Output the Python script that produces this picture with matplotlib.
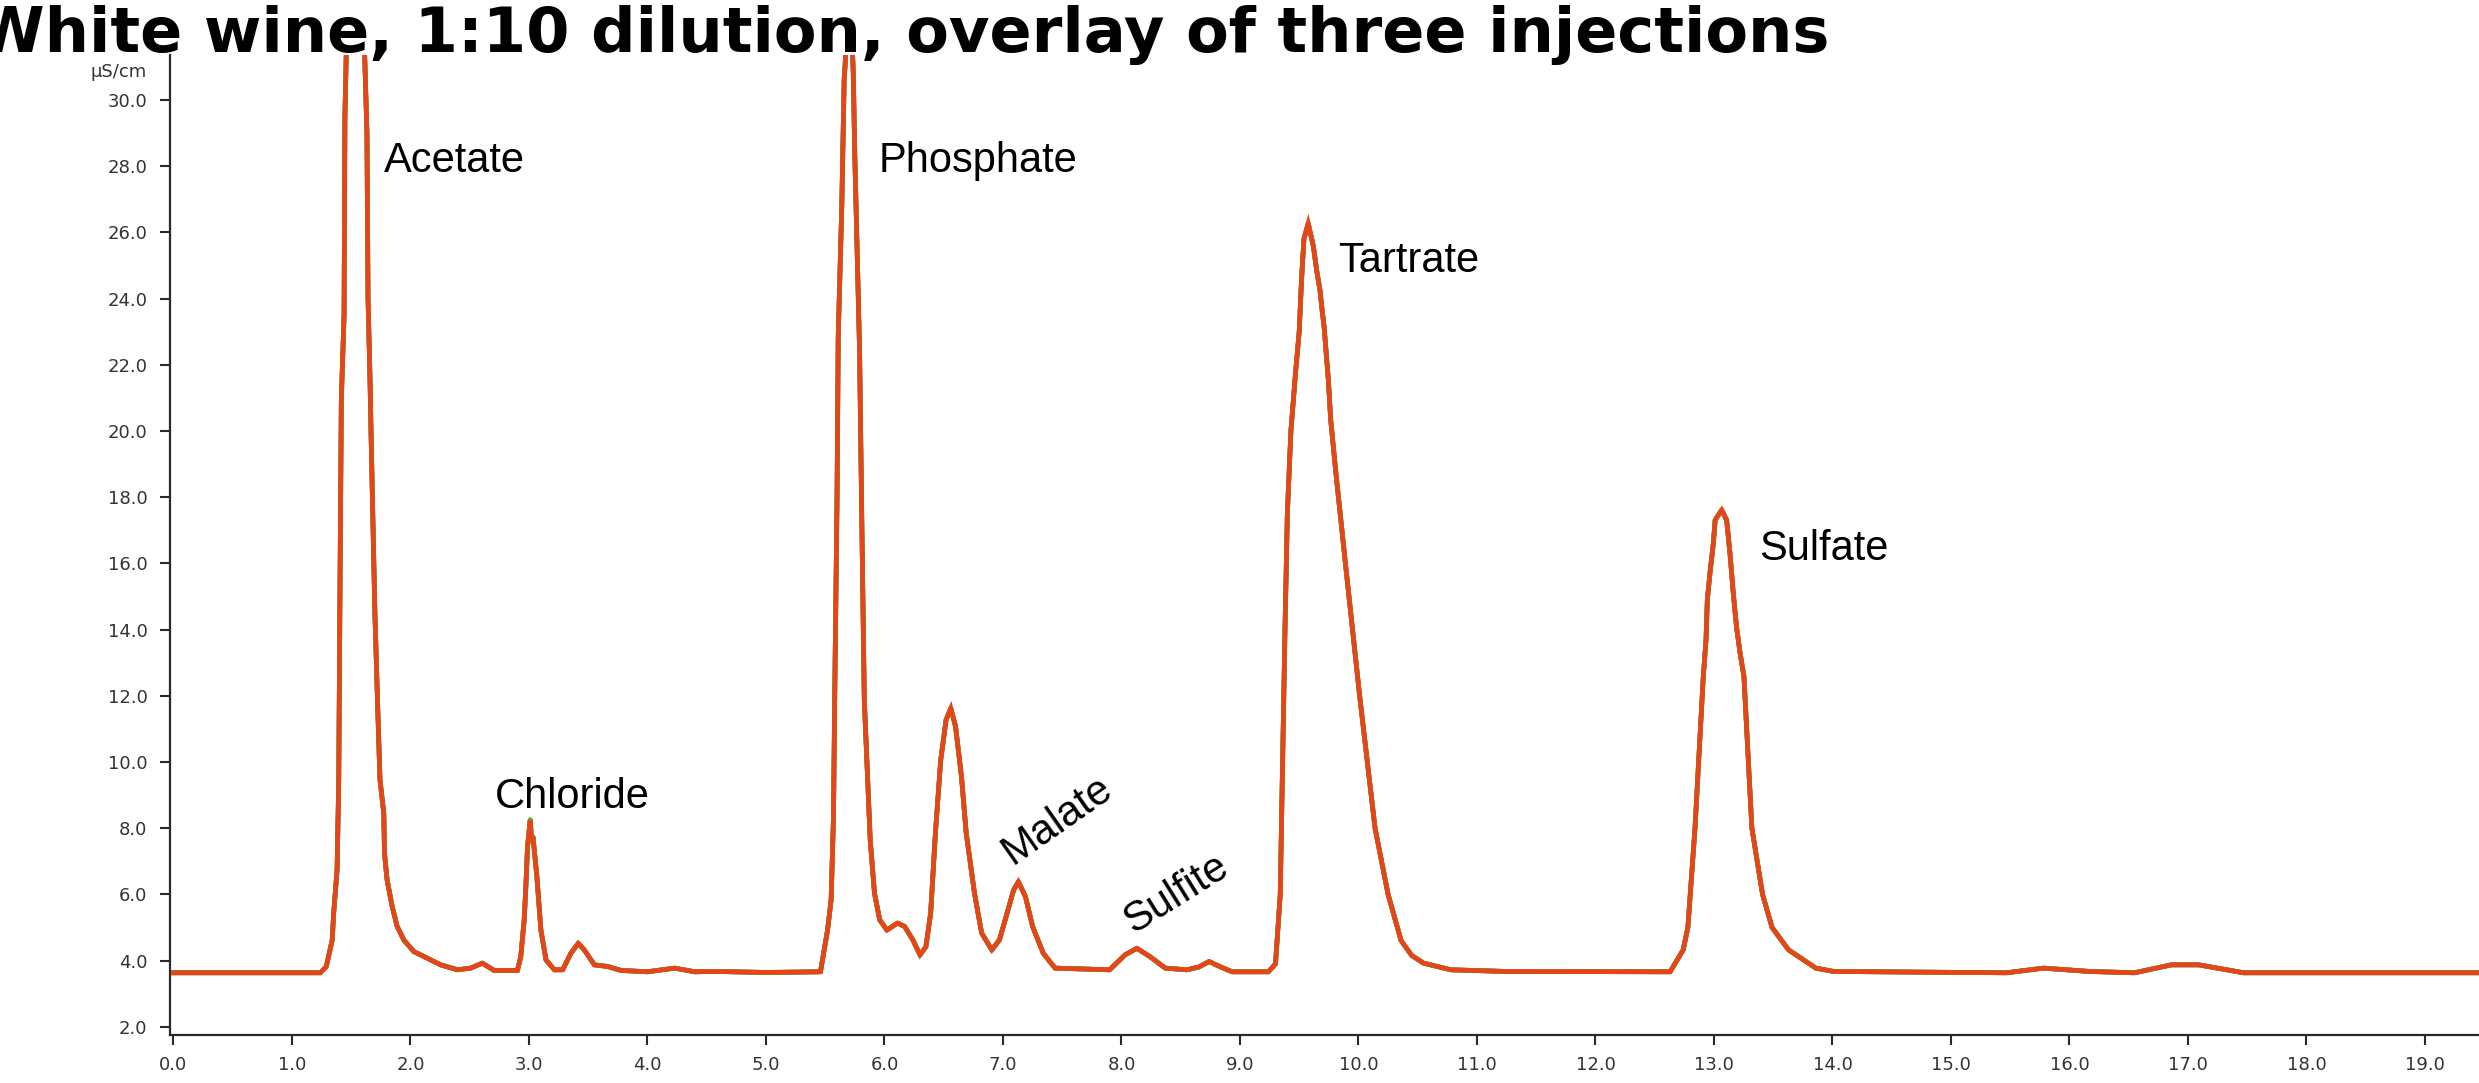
import matplotlib
matplotlib.use("Agg")
import matplotlib.pyplot as plt
from matplotlib.ticker import FormatStrFormatter

# ---- data (time in min, conductivity in µS/cm) ----
time_min = [
    0.00, 1.24, 1.29, 1.34, 1.352, 1.381, 1.395, 1.405, 1.417, 1.44, 1.447, 1.456,
    1.54, 1.61, 1.633, 1.642, 1.658, 1.67, 1.70, 1.725, 1.743, 1.775, 1.781, 1.803,
    1.846, 1.888, 1.944, 2.029, 2.142, 2.255, 2.396, 2.508, 2.607, 2.706, 2.903,
    2.931, 2.960, 2.974, 2.988, 3.011, 3.022, 3.034, 3.067, 3.101, 3.144, 3.214,
    3.285, 3.354, 3.416, 3.467, 3.552, 3.665, 3.777, 4.00, 4.229, 4.40, 4.567, 5.00,
    5.46, 5.52, 5.55, 5.57, 5.58, 5.60, 5.61, 5.64, 5.66, 5.71, 5.737, 5.75, 5.77,
    5.79, 5.81, 5.83, 5.85, 5.865, 5.88, 5.916, 5.96, 6.02, 6.11, 6.17, 6.24, 6.30,
    6.35, 6.39, 6.43, 6.475, 6.52, 6.56, 6.60, 6.65, 6.69, 6.76, 6.82, 6.906, 6.97,
    7.035, 7.09, 7.13, 7.19, 7.25, 7.34, 7.44, 7.90, 8.03, 8.13, 8.24, 8.37, 8.55,
    8.65, 8.74, 8.84, 8.935, 9.24, 9.30, 9.34, 9.36, 9.38, 9.40, 9.43, 9.47, 9.50,
    9.52, 9.54, 9.576, 9.62, 9.647, 9.675, 9.69, 9.71, 9.726, 9.746, 9.766, 9.788,
    9.81, 9.89, 10.01, 10.14, 10.25, 10.36, 10.45, 10.55, 10.78, 11.24, 12.63, 12.74,
    12.78, 12.84, 12.91, 12.933, 12.944, 12.966, 12.995, 13.01, 13.065, 13.107,
    13.135, 13.163, 13.19, 13.22, 13.253, 13.32, 13.41, 13.49, 13.63, 13.86, 14.01,
    15.47, 15.78, 16.17, 16.55, 16.86, 17.09, 17.47, 19.46,
]
conductivity = [
    3.63, 3.63, 3.82, 4.62, 5.43, 6.74, 9.46, 15.0, 21.0, 23.5, 29.5, 31.0,
    45.0, 31.8, 29.0, 24.0, 21.7, 19.5, 14.5, 11.5, 9.46, 8.45, 7.24, 6.44,
    5.63, 5.03, 4.62, 4.27, 4.07, 3.87, 3.72, 3.77, 3.92, 3.70, 3.70,
    4.12, 5.23, 6.23, 7.44, 8.25, 7.60, 7.74, 6.53, 4.92, 4.02, 3.72,
    3.72, 4.22, 4.52, 4.32, 3.87, 3.82, 3.70, 3.66, 3.77, 3.66, 3.67, 3.64,
    3.66, 4.92, 5.83, 8.35, 11.87, 18.0, 22.85, 26.8, 30.6, 33.5, 30.8, 28.3, 25.4,
    22.45, 17.0, 11.87, 10.16, 8.85, 7.64, 6.03, 5.23, 4.92, 5.13, 5.03, 4.62, 4.17,
    4.42, 5.43, 7.85, 10.06, 11.27, 11.62, 11.07, 9.56, 7.85, 6.03, 4.83, 4.32, 4.62,
    5.43, 6.13, 6.38, 5.93, 5.03, 4.22, 3.77, 3.72, 4.17, 4.37, 4.12, 3.77, 3.72,
    3.80, 3.97, 3.80, 3.66, 3.66, 3.90, 6.0, 10.0, 14.0, 17.5, 20.0, 21.8, 23.0,
    24.6, 25.8, 26.27, 25.57, 24.86, 24.26, 23.76, 23.15, 22.45, 21.54, 20.33, 19.53,
    18.72, 16.0, 12.0, 8.0, 6.0, 4.6, 4.15, 3.92, 3.72, 3.67, 3.66, 4.32,
    5.0, 8.0, 12.58, 13.69, 14.89, 15.70, 16.61, 17.31, 17.61, 17.31,
    16.31, 15.10, 14.09, 13.3, 12.58, 8.0, 6.0, 5.0, 4.32, 3.77, 3.67,
    3.63, 3.77, 3.67, 3.63, 3.87, 3.87, 3.63, 3.63,
]

peak_names = ["Acetate", "Phosphate", "Chloride", "Tartrate", "Sulfate", "Malate", "Sulfite"]
label_time = [1.777, 5.948, 2.714, 9.83, 13.383, 7.08, 8.10]
label_value = [27.83, 27.83, 8.60, 24.81, 16.10, 6.90, 4.80]
label_rotation = [0, 0, 0, 0, 0, 35, 32]

x_ticks = [float(i) for i in range(0, 20)]
y_ticks = [float(i) for i in range(2, 31, 2)]

title = "White wine, 1:10 dilution, overlay of three injections"

# ---- figure ----
W, H = 2479, 1083
AX_TOP = 55.0
fig = plt.figure(figsize=(W / 100, H / 100), dpi=100)
ax = fig.add_axes([170 / W, 1 - 1035 / H, 1 - 170 / W, (1035 - AX_TOP) / H])

ax.plot(time_min, conductivity, color="#1a1a1a", lw=3.4, zorder=2)
ax.plot(time_min, conductivity, color="#33dd22", lw=3.4, zorder=3)
ax.plot(time_min, conductivity, color="#e8441a", lw=3.4, zorder=4,
        solid_joinstyle="miter")

ax.set_xlim(-0.029, 19.456)
ax.set_ylim(1.75, 30 + (100 - AX_TOP) / 33.1)

for sp in ["top", "right"]:
    ax.spines[sp].set_visible(False)
for sp in ["left", "bottom"]:
    ax.spines[sp].set_color("#2a2a2a")
    ax.spines[sp].set_linewidth(1.6)

ax.set_xticks(x_ticks)
ax.set_yticks(y_ticks)
ax.xaxis.set_major_formatter(FormatStrFormatter("%.1f"))
ax.yaxis.set_major_formatter(FormatStrFormatter("%.1f"))
ax.tick_params(axis="both", direction="out", length=7.2, width=1.5,
               color="#2a2a2a", labelsize=13, labelcolor="#333333")
ax.tick_params(axis="y", pad=9)
ax.tick_params(axis="x", pad=8)

fig.text(147 / W, 1 - 72 / H, "µS/cm", ha="right", va="center",
         fontsize=13, color="#333333")

for name, tx, ty, rot in zip(peak_names, label_time, label_value, label_rotation):
    ax.text(tx, ty, name, fontsize=30, family="Liberation Sans", color="black",
            ha="left", va="baseline", rotation=rot, rotation_mode="anchor",
            zorder=6)

fig.text(-24 / W, 1 - 52 / H, title, fontsize=44.8, fontweight="bold",
         family="DejaVu Sans", ha="left", va="baseline", color="black")

fig.savefig("out.png", dpi=100)
